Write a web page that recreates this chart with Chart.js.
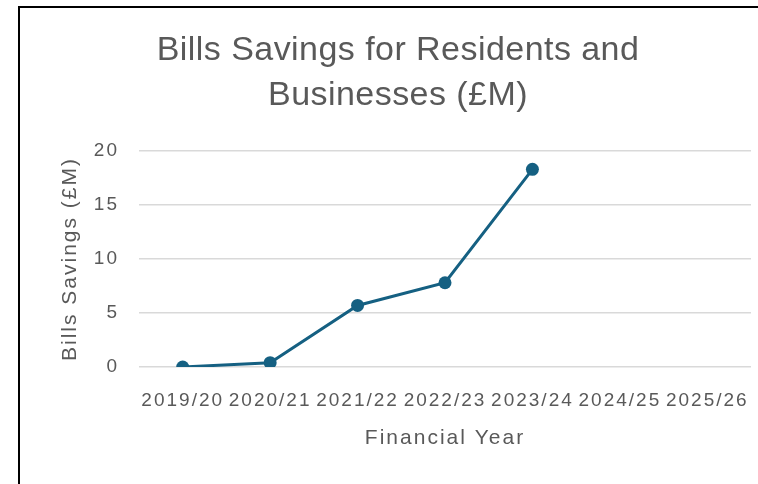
<!DOCTYPE html>
<html>
<head>
<meta charset="utf-8">
<script src="https://cdn.jsdelivr.net/npm/chart.js@4/dist/chart.umd.min.js"></script>
<style>
  html, body { margin: 0; padding: 0; background: #fff; }
  body { width: 758px; height: 484px; overflow: hidden; position: relative; }
  #frame { position: absolute; left: 18px; top: 6px; width: 820px; height: 560px; border: 2px solid #000; }
  #wrap { position: absolute; left: 20px; top: 8px; width: 756px; height: 476px; }
</style>
</head>
<body>
<div id="frame"></div>
<div id="wrap"><canvas id="line" width="756" height="476"></canvas></div>
<script>
const years = ['2019/20', '2020/21', '2021/22', '2022/23', '2023/24', '2024/25', '2025/26'];
const savings = [0, 0.4, 5.7, 7.8, 18.3, null, null];
const yTicks = [0, 5, 10, 15, 20];

const grey = '#595959';
const fontFamily = '"Liberation Sans", Arial, sans-serif';

const ctx = document.getElementById('line').getContext('2d');
const chart = new Chart(ctx, {
    type: 'line',
    data: {
        labels: years,
        datasets: [{
            label: 'Bills Savings (£M)',
            data: savings,
            borderColor: '#156082',
            backgroundColor: '#156082',
            borderWidth: 3,
            pointRadius: 6.5,
            pointBorderWidth: 0,
            pointBackgroundColor: '#156082',
            tension: 0
        }]
    },
    options: {
        responsive: false,
        animation: false,
        layout: { padding: { left: 25, right: 25, top: 0, bottom: 0 } },
        plugins: {
            legend: { display: false },
            tooltip: { enabled: false },
            title: {
                display: true,
                text: ['Bills Savings for Residents and', 'Businesses (£M)'],
                color: grey,
                font: { family: fontFamily, size: 34, weight: 'normal', lineHeight: 1.3 },
                padding: { top: 21, bottom: 33.6 }
            }
        },
        scales: {
            x: {
                offset: true,
                grid: { display: false, drawTicks: false },
                border: { display: false },
                ticks: {
                    color: grey,
                    autoSkip: false,
                    maxRotation: 0,
                    minRotation: 0,
                    padding: 22,
                    font: { family: fontFamily, size: 19 }
                },
                title: {
                    display: true,
                    text: 'Financial Year',
                    color: grey,
                    font: { family: fontFamily, size: 21 },
                    padding: { top: 33, bottom: 33 }
                },
                afterFit: function (scale) { scale.height = 117; }
            },
            y: {
                min: 0,
                max: 20,
                afterBuildTicks: function (scale) {
                    scale.ticks = yTicks.map(v => ({ value: v }));
                },
                grid: { color: '#d9d9d9', lineWidth: 1.5, drawTicks: false },
                border: { display: false },
                ticks: {
                    color: grey,
                    padding: 20,
                    font: { family: fontFamily, size: 19 }
                },
                title: {
                    display: true,
                    text: 'Bills Savings (£M)',
                    color: grey,
                    font: { family: fontFamily, size: 21 },
                    padding: { top: 13, bottom: 13 }
                },
                afterFit: function (scale) { scale.width = 94; }
            }
        }
    }
});

// Excel draws its text a bit spaced out; copy that with canvas letterSpacing
function spaced(obj, px) {
    const orig = obj.draw;
    obj.draw = function (...args) {
        const c = this.ctx;
        const prev = c.letterSpacing;
        c.letterSpacing = px;
        const r = orig.apply(this, args);
        c.letterSpacing = prev;
        return r;
    };
}
spaced(chart.scales.x, '2px');
spaced(chart.scales.y, '2px');
spaced(chart.titleBlock, '0.45px');
chart.update();
</script>
</body>
</html>
